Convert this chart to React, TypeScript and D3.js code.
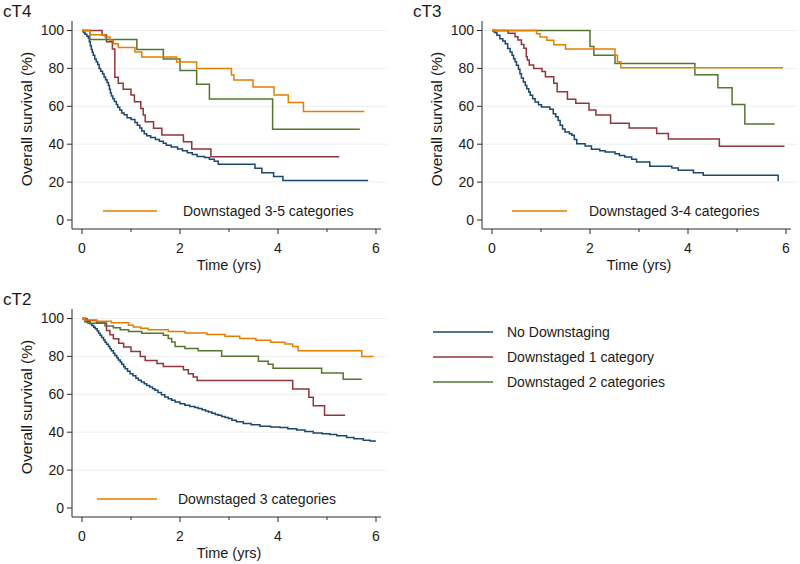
import React from "react";
import * as d3 from "d3";

// series order: none, 1 category, 2 categories, 3+ categories
const seriesColors = ["#1a476f", "#90353b", "#55752f", "#e37e00"];
const legendNames = ["No Downstaging", "Downstaged 1 category", "Downstaged 2 categories"];
const yTicks = [0, 20, 40, 60, 80, 100];
const yGrid = [20, 40, 60, 80, 100];
const xTicks = [0, 2, 4, 6];
const xMinor = [1, 3, 5];

// [time (yrs), overall survival (%)] - last point is end of follow-up
const cT4None = [
  [0, 100], [0.03, 99], [0.06, 98], [0.1, 97], [0.13, 96], [0.15, 94], [0.17, 92], [0.19, 90],
  [0.21, 88.5], [0.23, 87], [0.26, 85], [0.29, 83.5], [0.32, 82], [0.35, 80], [0.38, 78.5],
  [0.42, 77], [0.45, 75.5], [0.48, 74], [0.51, 72.5], [0.54, 71], [0.56, 69], [0.58, 67],
  [0.6, 65.5], [0.63, 64], [0.66, 62.5], [0.7, 61], [0.73, 59.5], [0.77, 58], [0.81, 56.5],
  [0.86, 55.5], [0.92, 54], [1.0, 53], [1.08, 51.5], [1.13, 50], [1.18, 48.5], [1.22, 47],
  [1.27, 45.5], [1.32, 44.5], [1.4, 43.5], [1.5, 42.5], [1.58, 41.5], [1.66, 40.5], [1.72, 39.5],
  [1.82, 38.5], [1.95, 37.5], [2.05, 36.5], [2.15, 35.5], [2.25, 34.5], [2.35, 33.5], [2.5, 33],
  [2.6, 32], [2.7, 31], [2.78, 29.4], [3.53, 27.3], [3.67, 25], [3.91, 22.9], [4.1, 20.9], [5.84, 20.9],
];
const cT4One = [
  [0, 100], [0.41, 97.6], [0.5, 94.1], [0.62, 90.2], [0.67, 75.3], [0.74, 72.1], [0.84, 69],
  [1.0, 66], [1.07, 62.4], [1.2, 58.9], [1.25, 55.4], [1.29, 51.9], [1.46, 48.4], [1.63, 44.9],
  [2.07, 41.3], [2.24, 37.5], [2.63, 33.4], [5.25, 33.4],
];
const cT4Two = [
  [0, 100], [0.16, 95.2], [1.12, 90], [1.66, 85], [2.0, 78.9], [2.34, 71.7], [2.6, 63.8],
  [3.89, 47.9], [5.67, 47.9],
];
const cT4Three = [
  [0, 100], [0.16, 97.8], [0.47, 96.6], [0.57, 94.8], [0.64, 93], [0.74, 91], [1.08, 88.6],
  [1.22, 86], [1.93, 83.4], [2.34, 80], [3.05, 76.5], [3.1, 73.9], [3.49, 70.2], [3.92, 66],
  [4.21, 62], [4.52, 57.2], [5.76, 57.2],
];

const cT3None = [
  [0, 100], [0.05, 99], [0.1, 97.5], [0.16, 95.7], [0.22, 94.5], [0.27, 93], [0.32, 90.5],
  [0.37, 88.7], [0.41, 87], [0.44, 85.1], [0.47, 83.5], [0.5, 81.6], [0.54, 79.5], [0.57, 77.2],
  [0.6, 75], [0.64, 72.8], [0.68, 71], [0.71, 69.3], [0.75, 67.5], [0.78, 65.8], [0.83, 64],
  [0.88, 62.3], [0.95, 60.8], [1.01, 59.6], [1.18, 58.4], [1.25, 56.1], [1.3, 54.5], [1.35, 52.5],
  [1.39, 50], [1.44, 48], [1.49, 46.4], [1.58, 45.5], [1.63, 44.7], [1.68, 42.5], [1.73, 40.3],
  [1.9, 39], [2.03, 37.3], [2.2, 36.5], [2.31, 35.9], [2.51, 35], [2.6, 34], [2.71, 33.2],
  [2.85, 32], [2.95, 30.6], [3.22, 28.3], [3.67, 27.4], [3.8, 26.2], [4.11, 25], [4.31, 23.6],
  [5.84, 20.4], [5.84, 20.4],
];
const cT3One = [
  [0, 100], [0.33, 98.5], [0.47, 96.7], [0.53, 95], [0.6, 92.6], [0.65, 90.6], [0.7, 86.2],
  [0.72, 84.4], [0.76, 81.8], [0.85, 80], [1.02, 78.3], [1.09, 75.6], [1.26, 72.1], [1.33, 67.7],
  [1.54, 63.7], [1.71, 61.6], [1.98, 58], [2.12, 55.4], [2.42, 51], [2.8, 48.5], [3.36, 45.6],
  [3.6, 42.8], [4.64, 38.9], [5.97, 38.9],
];
const cT3Two = [
  [0, 100], [2.0, 91.5], [2.08, 87], [2.51, 82.6], [4.14, 76.7], [4.61, 69.8], [4.9, 61],
  [5.16, 50.7], [5.77, 50.7],
];
const cT3Three = [
  [0, 100], [0.91, 98.3], [0.98, 96.6], [1.12, 94.8], [1.26, 92.5], [1.5, 90.3], [2.51, 87],
  [2.56, 83.5], [2.63, 80.4], [5.94, 80.4],
];

const cT2None = [
  [0, 100], [0.05, 99.5], [0.1, 98.5], [0.16, 97.2], [0.2, 96.3], [0.24, 95.4], [0.27, 94.6],
  [0.31, 93.4], [0.34, 92.2], [0.37, 91.1], [0.4, 90], [0.44, 88.7], [0.47, 87.5], [0.5, 86.4],
  [0.54, 85.2], [0.57, 84.1], [0.6, 83], [0.64, 81.7], [0.67, 80.5], [0.71, 79.3], [0.74, 78.1],
  [0.78, 77], [0.81, 75.8], [0.85, 74.6], [0.88, 73.5], [0.93, 72.2], [0.98, 70.9], [1.04, 69.8],
  [1.1, 68.5], [1.15, 67.4], [1.21, 66.5], [1.27, 65.6], [1.32, 64.7], [1.38, 63.8], [1.44, 62.9],
  [1.49, 62.1], [1.55, 61], [1.62, 59.8], [1.69, 58.6], [1.76, 57.6], [1.83, 56.8], [1.9, 55.9],
  [2.0, 55], [2.1, 54.2], [2.2, 53.6], [2.3, 53], [2.37, 52.5], [2.45, 51.8], [2.52, 51.2],
  [2.58, 50.7], [2.65, 50], [2.72, 49.4], [2.78, 48.9], [2.85, 48.3], [2.92, 47.7], [2.99, 47.2],
  [3.06, 46.3], [3.15, 45.5], [3.29, 44.6], [3.45, 43.9], [3.63, 43.2], [3.85, 42.8], [4.04, 42.5],
  [4.2, 41.8], [4.38, 41.1], [4.55, 40.4], [4.72, 39.6], [4.9, 39.2], [5.06, 38.8], [5.2, 38.1],
  [5.4, 37.2], [5.55, 36.6], [5.74, 35.8], [5.88, 35.3], [5.98, 34.8], [5.98, 34.8],
];
const cT2One = [
  [0, 100], [0.1, 99], [0.3, 97.6], [0.5, 93.7], [0.57, 91.4], [0.64, 89.3], [0.75, 87],
  [0.85, 84.9], [1.0, 82.6], [1.19, 80], [1.29, 77.9], [1.53, 76.2], [1.66, 74.7], [2.07, 73],
  [2.17, 70.9], [2.27, 69.1], [2.35, 67.3], [4.3, 62.8], [4.63, 58.4], [4.72, 54], [4.95, 49],
  [5.37, 49],
];
const cT2Two = [
  [0, 100], [0.06, 98.2], [0.12, 97.5], [0.47, 96], [0.64, 95.1], [0.78, 94.1], [0.95, 93.1],
  [1.22, 92.2], [1.66, 91.2], [1.76, 89.4], [1.83, 87.6], [1.9, 85.2], [2.1, 84.2], [2.37, 83],
  [2.85, 80.1], [3.6, 77.5], [3.8, 75.8], [3.9, 73.8], [4.89, 71.3], [5.33, 68], [5.71, 68],
];
const cT2Three = [
  [0, 100], [0.05, 99.2], [0.3, 98.5], [0.6, 97.8], [0.95, 96.5], [1.05, 95.5], [1.2, 94.8],
  [1.35, 94], [1.76, 93.2], [2.1, 92.3], [2.55, 91.5], [2.92, 90.6], [3.22, 89.5], [3.55, 88.5],
  [3.85, 87.5], [4.14, 86.5], [4.3, 85.2], [4.41, 83], [5.71, 79.9], [5.95, 79.9],
];

const panels = [
  {
    title: "cT4", dx: 0, dy: 0, series: [cT4None, cT4One, cT4Two, cT4Three],
    legend: "Downstaged 3-5 categories", legX1: 103, legX2: 157, legTextX: 183,
  },
  {
    title: "cT3", dx: 410, dy: 0, series: [cT3None, cT3One, cT3Two, cT3Three],
    legend: "Downstaged 3-4 categories", legX1: 512, legX2: 567, legTextX: 589,
  },
  {
    title: "cT2", dx: 0, dy: 288, series: [cT2None, cT2One, cT2Two, cT2Three],
    legend: "Downstaged 3 categories", legX1: 97, legX2: 157, legTextX: 178,
  },
];

const font = "'Liberation Sans', Arial, Helvetica, sans-serif";
const axisColor = "#2b2b2b";
const textColor = "#1a1a1a";

const Panel = ({ p }: { p: (typeof panels)[number] }) => {
  const x = d3.scaleLinear().domain([0, 6]).range([82 + p.dx, 376 + p.dx]);
  const y = d3.scaleLinear().domain([0, 100]).range([220 + p.dy, 30.5 + p.dy]);
  const axisX = 72 + p.dx;
  const axisY = 229 + p.dy;
  const right = 387 + p.dx;

  const line = d3
    .line<number[]>()
    .x((d) => x(d[0]))
    .y((d) => y(d[1]))
    .curve(d3.curveStepAfter);

  return (
    <g>
      <text x={3 + p.dx} y={17 + p.dy} fontSize={17} fill={textColor}>
        {p.title}
      </text>
      {/* gridlines */}
      {yGrid.map((t) => (
        <line key={"g" + t} x1={axisX} x2={right} y1={y(t)} y2={y(t)} stroke="#e9f0f2" strokeWidth={1} />
      ))}
      {/* y axis */}
      <line x1={axisX} x2={axisX} y1={21 + p.dy} y2={axisY} stroke={axisColor} strokeWidth={1} />
      {yTicks.map((t) => (
        <g key={"y" + t}>
          <line x1={axisX - 5} x2={axisX} y1={y(t)} y2={y(t)} stroke={axisColor} />
          <text x={axisX - 8} y={y(t)} dy="0.35em" textAnchor="end" fontSize={14} fill={textColor}>
            {t}
          </text>
        </g>
      ))}
      <text
        transform={`translate(${27 + p.dx},${119 + p.dy}) rotate(-90)`}
        textAnchor="middle"
        dy="0.35em"
        fontSize={15.5}
        fill={textColor}
      >
        Overall survival (%)
      </text>
      {/* x axis */}
      <line x1={axisX} x2={381 + p.dx} y1={axisY} y2={axisY} stroke={axisColor} strokeWidth={1} />
      {xTicks.map((t) => (
        <g key={"x" + t}>
          <line x1={x(t)} x2={x(t)} y1={axisY} y2={axisY + 5} stroke={axisColor} />
          <text x={x(t)} y={253 + p.dy} textAnchor="middle" fontSize={14} fill={textColor}>
            {t}
          </text>
        </g>
      ))}
      {xMinor.map((t) => (
        <line key={"m" + t} x1={x(t)} x2={x(t)} y1={axisY} y2={axisY + 3} stroke={axisColor} />
      ))}
      <text x={x(3)} y={270 + p.dy} textAnchor="middle" fontSize={14.5} fill={textColor}>
        Time (yrs)
      </text>
      {/* curves */}
      {p.series.map((s, i) => (
        <path key={"s" + i} d={line(s) || ""} fill="none" stroke={seriesColors[i]} strokeWidth={1.5} />
      ))}
      {/* in-panel legend */}
      <line x1={p.legX1} x2={p.legX2} y1={211 + p.dy} y2={211 + p.dy} stroke={seriesColors[3]} strokeWidth={1.5} />
      <text x={p.legTextX} y={211 + p.dy} dy="0.35em" fontSize={14} fill={textColor}>
        {p.legend}
      </text>
    </g>
  );
};

export default function App() {
  return (
    <svg
      width={800}
      height={564}
      style={{ position: "absolute", left: 0, top: 0, background: "#fff", fontFamily: font }}
    >
      <rect width={800} height={564} fill="#fff" />
      {panels.map((p) => (
        <Panel key={p.title} p={p} />
      ))}
      {legendNames.map((n, i) => (
        <g key={n}>
          <line x1={433} x2={493} y1={332 + i * 25} y2={332 + i * 25} stroke={seriesColors[i]} strokeWidth={1.5} />
          <text x={507} y={332 + i * 25} dy="0.35em" fontSize={14} fill={textColor}>
            {n}
          </text>
        </g>
      ))}
    </svg>
  );
}
